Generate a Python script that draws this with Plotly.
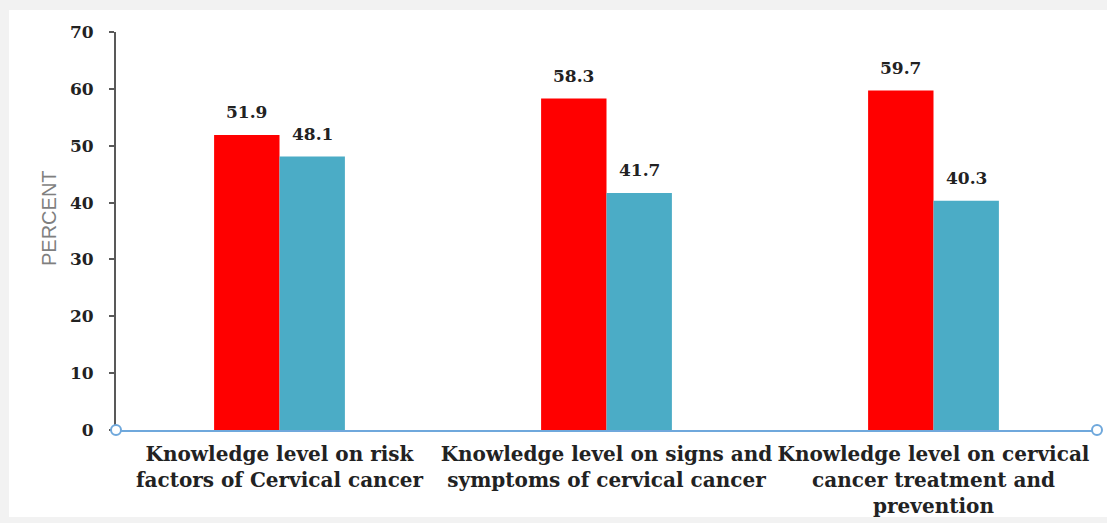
import plotly.graph_objects as go

categories = [
    "Knowledge level on risk<br>factors of Cervical cancer",
    "Knowledge level on signs and<br>symptoms of cervical cancer",
    "Knowledge level on cervical<br>cancer treatment and<br>prevention",
]
series_red = [51.9, 58.3, 59.7]
series_blue = [48.1, 41.7, 40.3]
y_ticks = [0, 10, 20, 30, 40, 50, 60, 70]

RED = "#ff0000"
BLUE = "#4bacc6"
SERIF = "DejaVu Serif, serif"
FRAME = "#f2f2f2"

fig = go.Figure()
fig.add_trace(go.Bar(x=categories, y=series_red, marker=dict(color=RED, line=dict(width=0)),
                     name="Adequate"))
fig.add_trace(go.Bar(x=categories, y=series_blue, marker=dict(color=BLUE, line=dict(width=0)),
                     name="Inadequate"))

# value labels above each bar
annotations = []
bar_half_px = 32.7
for vals, shift in ((series_red, -bar_half_px), (series_blue, bar_half_px)):
    for cat, v in zip(categories, vals):
        annotations.append(dict(
            x=cat, y=v, xref="x", yref="y", text=f"<b>{v}</b>", showarrow=False,
            xshift=shift, yshift=11, yanchor="bottom",
            font=dict(family=SERIF, size=17, color="#222222"),
        ))

# y axis title
annotations.append(dict(
    x=(36 - 116) / 981, y=(430 - 218) / 398, xref="paper", yref="paper",
    text="PERCENT", textangle=-90, showarrow=False,
    font=dict(family="Liberation Sans, Arial, sans-serif", size=20, color="#7f7f7f"),
))

# light gray frame on the top, left and bottom edges of the page
px_x = lambda p: (p - 116) / 981
px_y = lambda p: (430 - p) / 398
shapes = [
    dict(type="rect", xref="paper", yref="paper", x0=px_x(-5), x1=px_x(1120),
         y0=px_y(10), y1=px_y(-5), fillcolor=FRAME, line=dict(width=0), layer="below"),
    dict(type="rect", xref="paper", yref="paper", x0=px_x(-5), x1=px_x(9),
         y0=px_y(530), y1=px_y(-5), fillcolor=FRAME, line=dict(width=0), layer="below"),
    dict(type="rect", xref="paper", yref="paper", x0=px_x(-5), x1=px_x(1120),
         y0=px_y(530), y1=px_y(517), fillcolor=FRAME, line=dict(width=0), layer="below"),
]
for xe in (0, 1):
    shapes.append(dict(type="circle", xref="paper", yref="paper",
                       xsizemode="pixel", ysizemode="pixel", xanchor=xe, yanchor=0,
                       x0=-5, x1=5, y0=-5, y1=5,
                       fillcolor="white", line=dict(color="#6fa8dc", width=2)))

fig.update_layout(
    width=1107, height=523,
    margin=dict(l=116, r=10, t=32, b=93),
    paper_bgcolor="white",
    plot_bgcolor="white",
    barmode="group",
    bargap=0.6,
    bargroupgap=0,
    showlegend=False,
    annotations=annotations,
    shapes=shapes,
    xaxis=dict(
        showline=True, linecolor="#6fa8dc", linewidth=2,
        ticks="", showgrid=False, automargin=False,
        tickfont=dict(family=SERIF, size=20, color="#222222"),
        ticklabelstandoff=5,
    ),
    yaxis=dict(
        range=[0, 70], tickvals=y_ticks, ticktext=[f"<b>{t}</b>" for t in y_ticks],
        showline=True, linecolor="#595959", linewidth=2,
        ticks="outside", ticklen=5, tickcolor="#595959", tickwidth=1.5,
        showgrid=False, zeroline=False, automargin=False,
        tickfont=dict(family=SERIF, size=17, color="#222222"),
        ticklabelstandoff=12,
    ),
)
fig.update_xaxes(ticktext=[f"<b>{c}</b>" for c in categories], tickvals=categories)

fig.write_html("out.html")
